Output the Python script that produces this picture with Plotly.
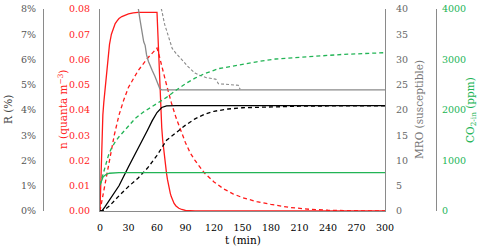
import plotly.graph_objects as go

# ---------------- data ----------------
# n: quanta concentration (left red axis)
t_n_solid = [0, 0.5, 1, 1.5, 2, 3, 4, 5, 6, 7, 8, 9, 10, 12, 14, 16, 18, 20, 23, 26, 30, 35, 40, 60,
             60.5, 61, 61.5, 62, 63, 64, 65, 66, 67, 68, 69, 70, 71, 72, 73, 74, 75, 76, 77, 78, 80,
             83, 86, 90, 100, 300]
n_solid = [0, 0.008, 0.016, 0.024, 0.031, 0.038, 0.043, 0.047, 0.052, 0.056, 0.060, 0.063, 0.066,
           0.070, 0.0725, 0.0742, 0.0753, 0.0762, 0.0770, 0.0776, 0.0781, 0.0785, 0.0787, 0.0787,
           0.074, 0.067, 0.060, 0.054, 0.046, 0.039, 0.033, 0.028, 0.024, 0.0205, 0.0175, 0.015,
           0.0125, 0.0103, 0.0085, 0.007, 0.0057, 0.0046, 0.0037, 0.003, 0.002, 0.0011, 0.0006,
           0.0002, 0, 0]

t_n_dash = [0, 5, 10, 15, 20, 25, 30, 40, 50, 60, 62, 65, 70, 75, 80, 85, 90, 95, 100, 110, 120,
            130, 140, 150, 165, 180, 200, 220, 240, 270, 300]
n_dash = [0, 0.0105, 0.021, 0.030, 0.038, 0.044, 0.049, 0.0555, 0.0605, 0.0645, 0.062, 0.057,
          0.050, 0.043, 0.037, 0.032, 0.027, 0.023, 0.020, 0.015, 0.0115, 0.0088, 0.0068, 0.0053,
          0.0037, 0.0026, 0.0014, 0.0007, 0.0003, 0.0001, 0]

# R (%) (far-left grey axis)
t_r_solid = [0, 2, 5, 10, 20, 30, 40, 50, 55, 60, 65, 70, 80, 300]
r_solid = [0, 0, 0.15, 0.42, 1.0, 1.75, 2.45, 3.2, 3.58, 3.9, 4.1, 4.16, 4.17, 4.17]

t_r_dash = [0, 3, 10, 15, 20, 30, 40, 50, 60, 65, 70, 80, 90, 100, 110, 120, 135, 150, 180, 210,
            240, 300]
r_dash = [0, 0, 0.2, 0.42, 0.6, 0.97, 1.3, 1.7, 2.2, 2.5, 2.8, 3.1, 3.4, 3.65, 3.83, 3.95, 4.04,
          4.09, 4.13, 4.15, 4.16, 4.16]

# MRO (susceptible) (right grey axis)
t_mro_solid = [38, 40.4, 42, 44, 46, 47.5, 49, 51, 53, 55, 58, 60, 61.5, 63, 65, 300]
mro_solid = [41.5, 40, 38, 35.8, 33.5, 32.8, 30.9, 29.6, 28.6, 27.8, 26.6, 25.6, 24.9, 24.2, 24.0, 24.0]

t_mro_dash = [61, 64.9, 68, 72, 76, 80, 84, 88, 92, 96, 100, 105, 112, 122, 124.6, 145.5, 147.5]
mro_dash = [42, 39.8, 37, 34.5, 32.2, 31.2, 30.5, 29.6, 28.7, 28.0, 27.3, 26.9, 26.4, 26.1, 25.2,
            24.9, 24.1]

# CO2-in (ppm) (far-right green axis)
t_co2_solid = [0, 1, 2, 3, 5, 7, 10, 15, 20, 300]
co2_solid = [515, 580, 630, 665, 705, 730, 748, 757, 760, 760]

t_co2_dash = [0, 2, 4, 6, 9, 12, 16, 20, 26, 30, 37, 45, 55, 61, 70, 80, 90, 100, 110, 125, 145,
              165, 185, 220, 255, 300]
co2_dash = [515, 650, 810, 950, 1110, 1240, 1370, 1470, 1600, 1680, 1830, 1950, 2070, 2130, 2250,
            2390, 2520, 2630, 2720, 2820, 2895, 2955, 3010, 3060, 3100, 3135]

x_ticks = [0, 30, 60, 90, 120, 150, 180, 210, 240, 270, 300]

# ---------------- styling ----------------
RED = "#ff1a1a"
GREEN = "#22b455"
GREY = "#8a8a8a"
FONT = "DejaVu Serif"
TICK = 9.5
W, H = 480, 251
L_PX, R_PX, T_PX, B_PX = 100, 385, 9, 211

fig = go.Figure()
lw = 1.3
fig.add_trace(go.Scatter(x=t_co2_solid, y=co2_solid, yaxis="y4", mode="lines",
                         line=dict(color=GREEN, width=lw)))
fig.add_trace(go.Scatter(x=t_co2_dash, y=co2_dash, yaxis="y4", mode="lines",
                         line=dict(color=GREEN, width=lw, dash="4px,3px")))
fig.add_trace(go.Scatter(x=t_mro_solid, y=mro_solid, yaxis="y3", mode="lines",
                         line=dict(color=GREY, width=lw)))
fig.add_trace(go.Scatter(x=t_mro_dash, y=mro_dash, yaxis="y3", mode="lines",
                         line=dict(color=GREY, width=1.1, dash="3px,2px")))
fig.add_trace(go.Scatter(x=t_r_solid, y=r_solid, yaxis="y2", mode="lines",
                         line=dict(color="black", width=lw)))
fig.add_trace(go.Scatter(x=t_r_dash, y=r_dash, yaxis="y2", mode="lines",
                         line=dict(color="black", width=lw, dash="4px,3px")))
fig.add_trace(go.Scatter(x=t_n_dash, y=n_dash, yaxis="y", mode="lines",
                         line=dict(color=RED, width=lw, dash="4px,3px")))
fig.add_trace(go.Scatter(x=t_n_solid, y=n_solid, yaxis="y", mode="lines",
                         line=dict(color=RED, width=lw)))

axis_common = dict(showgrid=False, zeroline=False, showline=True, linecolor=GREY, linewidth=1,
                   ticks="", automargin=False)

fig.update_layout(
    width=W, height=H,
    margin=dict(l=0, r=0, t=T_PX, b=H - B_PX, pad=0, autoexpand=False),
    paper_bgcolor="white", plot_bgcolor="white",
    showlegend=False,
    font=dict(family=FONT, size=TICK, color="black"),
    xaxis=dict(domain=[L_PX / W, R_PX / W], range=[0, 300], tickvals=x_ticks,
               ticklabelstandoff=8,
               **axis_common, tickfont=dict(family=FONT, color="black", size=TICK)),
    yaxis=dict(range=[0, 0.08], dtick=0.01, tickformat=".2f", side="left", anchor="x",
               ticklabelstandoff=7,
               **axis_common, tickfont=dict(family=FONT, color=RED, size=TICK)),
    yaxis2=dict(range=[0, 8], dtick=1, ticksuffix="%", side="left", anchor="free",
                overlaying="y", position=43 / W, ticklabelstandoff=5,
                **axis_common, tickfont=dict(family=FONT, color="#555555", size=TICK)),
    yaxis3=dict(range=[0, 40], dtick=5, side="right", anchor="x", overlaying="y",
                ticklabelstandoff=8,
                **axis_common, tickfont=dict(family=FONT, color="#666666", size=TICK)),
    yaxis4=dict(range=[0, 4000], dtick=1000, side="right", anchor="free", overlaying="y",
                position=436 / W, ticklabelstandoff=3,
                **axis_common, tickfont=dict(family=FONT, color=GREEN, size=TICK)),
)

def py(ypx):
    return (B_PX - ypx) / (B_PX - T_PX)

ann = [
    dict(text="t (min)", x=(L_PX + R_PX) / 2 / W, y=py(240), color="black", angle=0),
    dict(text="R (%)", x=8 / W, y=py(110), color="#444444", angle=-90),
    dict(text="n (quanta m<sup>−3</sup>)", x=62 / W, y=py(110), color=RED, angle=-90),
    dict(text="MRO (susceptible)", x=419 / W, y=py(110), color="#777777", angle=-90),
    dict(text="CO<sub>2-in</sub> (ppm)", x=471 / W, y=py(110), color=GREEN, angle=-90),
]
for a in ann:
    fig.add_annotation(text=a["text"], x=a["x"], y=a["y"], xref="paper", yref="paper",
                       showarrow=False, textangle=a["angle"], xanchor="center", yanchor="middle",
                       font=dict(family=FONT, size=10.5, color=a["color"]))

fig.write_html("out.html", config={"displayModeBar": False},
               post_script="document.body.style.margin='0px';")
